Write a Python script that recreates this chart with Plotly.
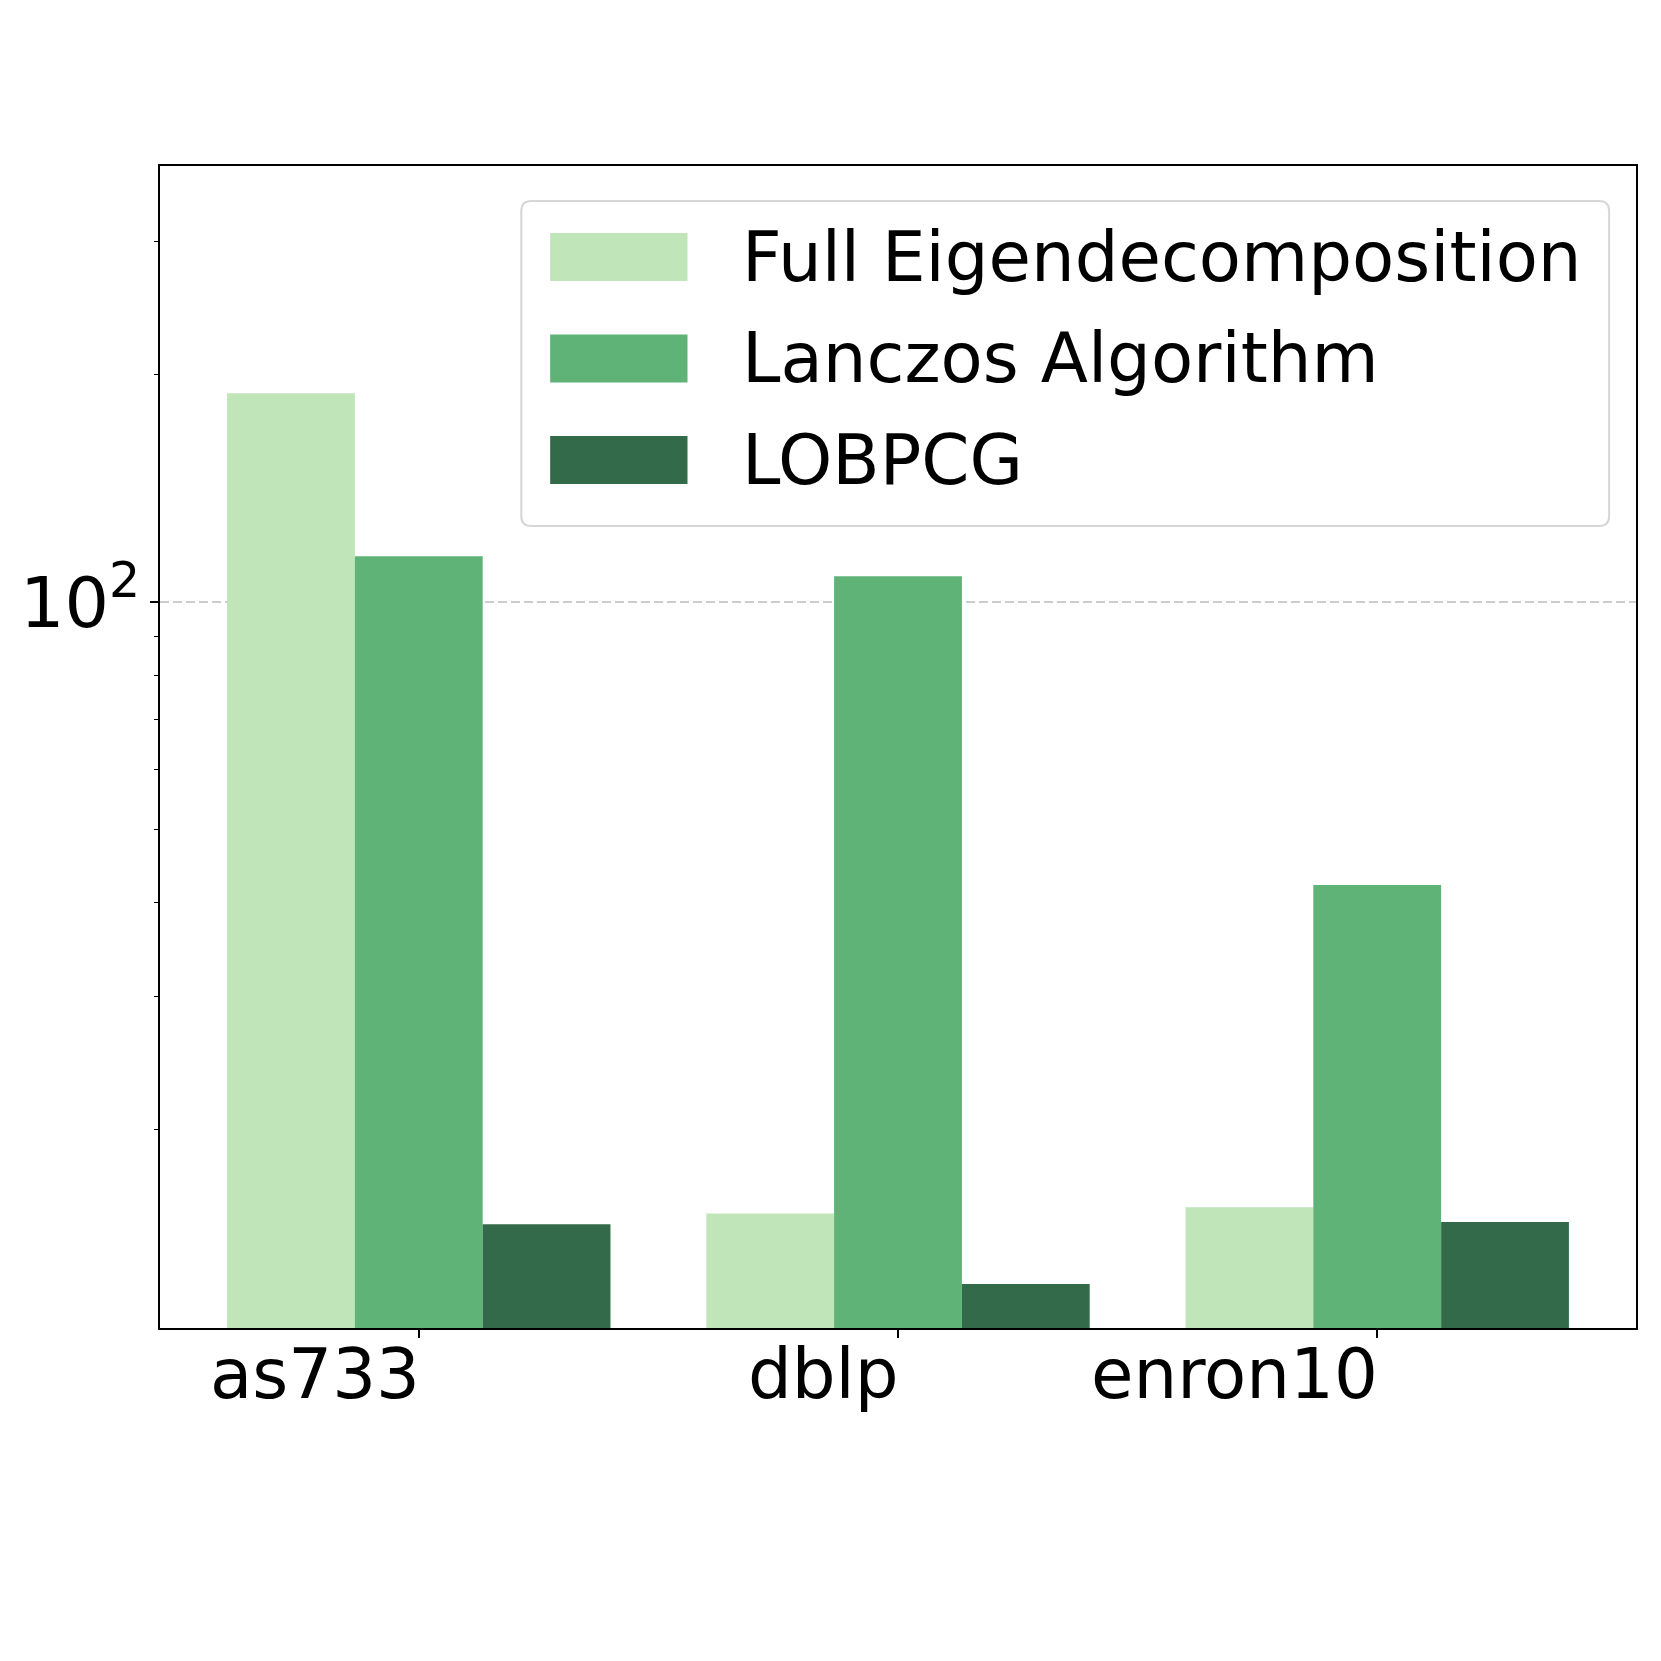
import plotly.graph_objects as go

datasets = ["as733", "dblp", "enron10"]
series_names = ["Full Eigendecomposition", "Lanczos Algorithm", "LOBPCG"]
full_eig = [189.0, 15.5, 15.8]
lanczos = [115.0, 108.2, 42.2]
lobpcg = [15.0, 12.5, 15.1]
colors = ["#bfe5b9", "#5fb376", "#336b4a"]

y_ticks = [100]
y_ticktext = ["10<sup>2</sup>"]
y_minor = [20, 30, 40, 50, 60, 70, 80, 90, 200, 300]

FONT = "DejaVu Sans"
FS = 69

# the page body adds an 8px margin, so the figure is drawn 8px smaller
OFF = 8
FIG = 1661 - OFF

# plot area in page pixels (as measured on the reference)
L, R, T, B = 153, 1636, 166, 1328
W, H = R - L, B - T


def px_x(x):
    return (x - L) / W


def px_y(y):
    return (B - y) / H


fig = go.Figure()
for name, vals, color in zip(series_names, [full_eig, lanczos, lobpcg], colors):
    fig.add_trace(go.Bar(x=datasets, y=vals, name=name,
                         marker_color=color, marker_line_width=0))

# x tick labels, right-aligned on the tick like the original
annotations = []
for ds in datasets:
    annotations.append(dict(x=ds, xref="x", y=0, yref="paper", text=ds,
                            xanchor="right", yanchor="top", showarrow=False,
                            xshift=3, yshift=-4,
                            font=dict(family=FONT, size=FS, color="black")))

# legend box drawn by hand (rounded frame + wide swatches)
lx0, lx1, ly0, ly1, rad = 516, 1609, 201, 526, 10
rx, ry = rad / W, rad / H
a0, a1, b0, b1 = px_x(lx0), px_x(lx1), px_y(ly1), px_y(ly0)
path = (f"M {a0 + rx},{b0} L {a1 - rx},{b0} Q {a1},{b0} {a1},{b0 + ry} "
        f"L {a1},{b1 - ry} Q {a1},{b1} {a1 - rx},{b1} "
        f"L {a0 + rx},{b1} Q {a0},{b1} {a0},{b1 - ry} "
        f"L {a0},{b0 + ry} Q {a0},{b0} {a0 + rx},{b0} Z")
shapes = [dict(type="path", path=path, xref="paper", yref="paper",
               line=dict(color="#d6d6d6", width=2),
               fillcolor="rgba(255,255,255,0.8)", layer="above")]

row_top, row_step, sw_h = 233, 101.5, 48
for i, (name, color) in enumerate(zip(series_names, colors)):
    y_top = row_top + i * row_step
    shapes.append(dict(type="rect", xref="paper", yref="paper",
                       x0=px_x(545), x1=px_x(683),
                       y0=px_y(y_top + sw_h), y1=px_y(y_top),
                       fillcolor=color, line=dict(width=0), layer="above"))
    annotations.append(dict(x=px_x(736), y=px_y(y_top + sw_h / 2),
                            xref="paper", yref="paper", text=name,
                            xanchor="left", yanchor="middle", showarrow=False,
                            font=dict(family=FONT, size=FS, color="black")))

fig.update_layout(
    width=FIG, height=FIG,
    margin=dict(l=L - OFF, r=1661 - R, t=T - OFF, b=1661 - B),
    paper_bgcolor="white", plot_bgcolor="white",
    font=dict(family=FONT, size=FS, color="black"),
    barmode="group", bargap=0.2, bargroupgap=0,
    showlegend=False,
    shapes=shapes, annotations=annotations,
)
fig.update_xaxes(type="category", range=[-0.54, 2.54],
                 showline=True, mirror=True, linecolor="black", linewidth=1.5,
                 ticks="outside", ticklen=8, tickwidth=1.5, tickcolor="black",
                 showticklabels=False, showgrid=False, zeroline=False)
fig.update_yaxes(type="log", range=[1.0386, 2.5775],
                 tickmode="array", tickvals=y_ticks, ticktext=y_ticktext,
                 tickfont=dict(family=FONT, size=FS + 1, color="black"),
                 ticklabelstandoff=-4,
                 ticks="outside", ticklen=8, tickwidth=1.5, tickcolor="black",
                 showline=True, mirror=True, linecolor="black", linewidth=1.5,
                 showgrid=True, gridcolor="#cccccc", gridwidth=1.5,
                 griddash="9px,4px", zeroline=False,
                 minor=dict(tickmode="array", tickvals=y_minor, ticks="outside",
                            ticklen=4.5, tickwidth=1.2, tickcolor="black",
                            showgrid=False))

fig.write_html("out.html")
